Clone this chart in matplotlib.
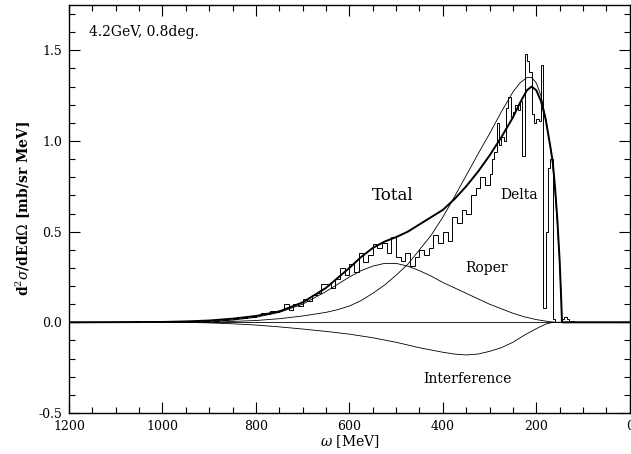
import numpy as np
import matplotlib
matplotlib.use("Agg")
import matplotlib.pyplot as plt
from matplotlib.ticker import MultipleLocator

# model curves (omega in MeV, value in mb/sr MeV)
total_w = [1200, 1000, 950, 900, 850, 800, 750, 700, 650, 600, 575, 550, 525,
           500, 475, 450, 425, 400, 375, 350, 325, 300, 275, 250, 235, 220,
           210, 200, 190, 180, 170, 165, 160, 155, 150, 147, 145, 0]
total_v = [0, 0.002, 0.005, 0.01, 0.02, 0.035, 0.06, 0.11, 0.19, 0.30, 0.36,
           0.41, 0.445, 0.47, 0.50, 0.54, 0.58, 0.62, 0.68, 0.75, 0.83, 0.92,
           1.02, 1.13, 1.21, 1.28, 1.30, 1.28, 1.22, 1.12, 0.97, 0.89, 0.75,
           0.57, 0.34, 0.15, 0.0, 0]

delta_w = [1200, 900, 850, 800, 750, 700, 650, 625, 600, 575, 550, 525, 500,
           475, 450, 425, 400, 380, 350, 320, 300, 275, 250, 235, 220, 210,
           200, 190, 180, 170, 165, 160, 155, 150, 147, 145, 0]
delta_v = [0, 0.0, 0.005, 0.01, 0.02, 0.035, 0.055, 0.07, 0.09, 0.12, 0.16,
           0.205, 0.26, 0.32, 0.40, 0.48, 0.58, 0.67, 0.81, 0.95, 1.04, 1.16,
           1.27, 1.32, 1.35, 1.35, 1.32, 1.25, 1.13, 0.97, 0.87, 0.72, 0.54,
           0.33, 0.15, 0.0, 0]

roper_w = [1200, 950, 900, 850, 800, 750, 700, 675, 650, 625, 600, 575, 550,
           525, 500, 475, 450, 425, 400, 375, 350, 325, 300, 275, 250, 225,
           200, 175, 160, 0]
roper_v = [0, 0.0, 0.005, 0.012, 0.028, 0.055, 0.10, 0.135, 0.17, 0.21, 0.25,
           0.285, 0.31, 0.325, 0.325, 0.31, 0.285, 0.255, 0.22, 0.19, 0.16,
           0.13, 0.10, 0.075, 0.05, 0.03, 0.015, 0.005, 0.0, 0]

interf_w = [1200, 950, 900, 850, 800, 750, 700, 650, 600, 550, 500, 450, 400,
            375, 350, 325, 300, 275, 250, 225, 200, 180, 165, 0]
interf_v = [0, 0.0, -0.003, -0.008, -0.015, -0.025, -0.037, -0.05, -0.065,
            -0.085, -0.11, -0.14, -0.165, -0.175, -0.18, -0.175, -0.16, -0.14,
            -0.11, -0.07, -0.035, -0.01, 0.0, 0]

# measured spectrum (histogram), 10 MeV bins from 1120 to 300 MeV
hist_coarse = [0.0, 0.002, 0.0, 0.004, 0.0, 0.002, 0.005, 0.001, 0.002, 0.0,
               0.003, 0.006, 0.004, 0.008, 0.005, 0.009, 0.004, 0.006, 0.010,
               0.007, 0.012, 0.009, 0.015, 0.010, 0.020, 0.014, 0.025, 0.018,
               0.030, 0.022, 0.035, 0.028, 0.040, 0.050, 0.045, 0.060, 0.055,
               0.070, 0.100, 0.070, 0.100, 0.090, 0.130, 0.120, 0.150, 0.160,
               0.210, 0.210, 0.190, 0.240, 0.300, 0.260, 0.320, 0.280, 0.380,
               0.330, 0.370, 0.430, 0.410, 0.440, 0.380, 0.470, 0.360, 0.340,
               0.380, 0.310, 0.360, 0.400, 0.370, 0.410, 0.480, 0.440, 0.500,
               0.450, 0.580, 0.550, 0.620, 0.600, 0.700, 0.740, 0.800, 0.760]
# 5 MeV bins from 300 down to 115 MeV
hist_fine = [0.82, 0.90, 0.94, 1.10, 0.98, 1.02, 1.00, 1.18, 1.24, 1.13, 1.16,
             1.20, 1.17, 1.22, 0.92, 1.48, 1.44, 1.38, 1.15, 1.10, 1.12, 1.11,
             1.42, 0.08, 0.50, 0.85, 0.90, 0.02, 0.0, 0.0, 0.0, 0.02, 0.03,
             0.02, 0.0, 0.01, 0.0]

edges = np.concatenate([np.arange(1120, 300, -10), np.arange(300, 110, -5)])
vals = np.array(hist_coarse + hist_fine)

plt.rcParams['font.family'] = ['DejaVu Serif']
plt.rcParams['mathtext.fontset'] = 'dejavuserif'

fig = plt.figure(figsize=(6.31, 4.54), dpi=100)
ax = fig.add_axes([0.1094, 0.0903, 0.8886, 0.8987])

ax.axhline(0, color='black', lw=0.6)
ax.stairs(vals[::-1], edges[::-1], color='black', lw=0.7)
ax.plot(total_w, total_v, color='black', lw=1.4)
ax.plot(delta_w, delta_v, color='black', lw=0.6)
ax.plot(roper_w, roper_v, color='black', lw=0.6)
ax.plot(interf_w, interf_v, color='black', lw=0.6)

ax.set_xlim(1200, 0)
ax.set_ylim(-0.5, 1.75)
ax.xaxis.set_major_locator(MultipleLocator(200))
ax.xaxis.set_minor_locator(MultipleLocator(50))
ax.yaxis.set_major_locator(MultipleLocator(0.5))
ax.yaxis.set_minor_locator(MultipleLocator(0.1))
ax.yaxis.set_major_formatter(matplotlib.ticker.FormatStrFormatter('%.1f'))
ax.tick_params(which='both', direction='in', top=True, right=True,
               labelsize=9, width=0.8)
ax.tick_params(which='major', length=8, pad=5)
ax.tick_params(which='minor', length=4)
for s in ax.spines.values():
    s.set_linewidth(1.0)

ax.set_xlabel(r'$\omega$ [MeV]', fontsize=10, labelpad=0)
ax.set_ylabel(r'd$^2\sigma$/dEd$\Omega$ [mb/sr MeV]', fontsize=10,
              fontweight='bold', labelpad=4)

ax.text(1157, 1.60, '4.2GeV, 0.8deg.', fontsize=10, va='center')
ax.text(508, 0.70, 'Total', fontsize=12, ha='center', va='center')
ax.text(236, 0.70, 'Delta', fontsize=10, ha='center', va='center')
ax.text(306, 0.30, 'Roper', fontsize=10, ha='center', va='center')
ax.text(347, -0.31, 'Interference', fontsize=10, ha='center', va='center')

fig.savefig('out.png', dpi=100)
